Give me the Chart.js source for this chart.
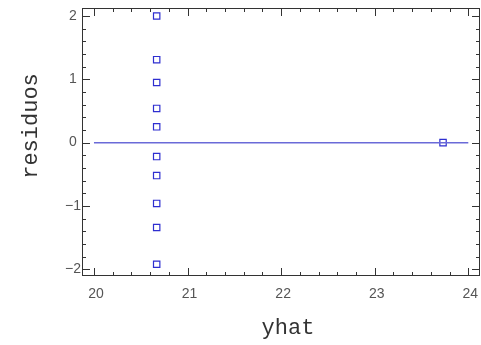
<!DOCTYPE html>
<html>
<head>
<meta charset="utf-8">
<script src="https://cdn.jsdelivr.net/npm/chart.js@4/dist/chart.umd.min.js"></script>
<style>
  html, body { margin: 0; padding: 0; background: #fff; }
</style>
</head>
<body>
<canvas id="myChart" width="481" height="345"></canvas>
<script>
'use strict';

// fitted values and residuals
const yhat = [20.67, 20.67, 20.67, 20.67, 20.67, 20.67, 20.67, 20.67, 20.67, 20.67, 23.73];
const residuos = [2.0, 1.31, 0.95, 0.54, 0.25, -0.22, -0.52, -0.96, -1.34, -1.92, 0.0];

// reference line at zero
const zeroLineX = [20, 24];
const zeroLineY = [0, 0];

// axis ticks
const xTicks = [20, 21, 22, 23, 24];
const xTickLabels = ['20', '21', '22', '23', '24'];
const yTicks = [-2, -1, 0, 1, 2];
const yTickLabels = ['\u22122', '\u22121', '0', '1', '2'];
const minorStep = 0.2;

const xTitle = 'yhat';
const yTitle = 'residuos';

// frame, inward ticks, tick labels and titles
const framePlugin = {
   id: 'frame',
   afterDraw: function (chart) {
      const ctx = chart.ctx;
      const a = chart.chartArea;
      const xs = chart.scales.x;
      const ys = chart.scales.y;
      ctx.save();
      ctx.strokeStyle = '#333';
      ctx.lineWidth = 1;
      ctx.strokeRect(a.left + 0.5, a.top + 0.5, a.right - a.left - 1, a.bottom - a.top - 1);

      ctx.beginPath();
      // minor + major ticks on x (top and bottom)
      for (let v = xTicks[0] - 5 * minorStep; v <= xs.max; v += minorStep) {
         if (v < xs.min) continue;
         const px = Math.round(xs.getPixelForValue(v)) + 0.5;
         const major = Math.abs(v - Math.round(v)) < 1e-6;
         const len = major ? 8 : 4;
         ctx.moveTo(px, a.bottom);
         ctx.lineTo(px, a.bottom - len);
         ctx.moveTo(px, a.top);
         ctx.lineTo(px, a.top + len);
      }
      // minor + major ticks on y (left and right)
      for (let v = yTicks[0]; v <= ys.max; v += minorStep) {
         if (v < ys.min) continue;
         const py = Math.round(ys.getPixelForValue(v)) + 0.5;
         const major = Math.abs(v - Math.round(v)) < 1e-6;
         const len = major ? 8 : 4;
         ctx.moveTo(a.left, py);
         ctx.lineTo(a.left + len, py);
         ctx.moveTo(a.right, py);
         ctx.lineTo(a.right - len, py);
      }
      ctx.stroke();

      // tick labels
      ctx.fillStyle = '#555';
      ctx.font = '14px "Liberation Sans", sans-serif';
      ctx.textAlign = 'center';
      ctx.textBaseline = 'middle';
      for (let i = 0; i < xTicks.length; i++) {
         ctx.fillText(xTickLabels[i], xs.getPixelForValue(xTicks[i]) + 2, a.bottom + 18);
      }
      for (let i = 0; i < yTicks.length; i++) {
         ctx.fillText(yTickLabels[i], a.left - 9, ys.getPixelForValue(yTicks[i]));
      }

      // axis titles
      ctx.fillStyle = '#333';
      ctx.font = '22px "Liberation Mono", monospace';
      ctx.fillText(xTitle, 288, 328);
      ctx.translate(31, 126);
      ctx.rotate(-Math.PI / 2);
      ctx.fillText(yTitle, 0, 0);
      ctx.restore();
   }
};

const points = [];
for (let i = 0; i < yhat.length; i++) {
   points.push({ x: yhat[i], y: residuos[i] });
}
const zeroLine = [];
for (let i = 0; i < zeroLineX.length; i++) {
   zeroLine.push({ x: zeroLineX[i], y: zeroLineY[i] });
}

new Chart(document.getElementById('myChart'), {
   type: 'scatter',
   data: {
      datasets: [{
         type: 'line',
         data: zeroLine,
         borderColor: '#6a6ad8',
         borderWidth: 1.5,
         pointRadius: 0,
         fill: false
      }, {
         data: points,
         pointStyle: 'rect',
         pointRadius: 4.5,
         pointBorderWidth: 1.2,
         borderColor: '#2e2ed0',
         backgroundColor: 'rgba(255,255,255,0)',
         clip: false
      }]
   },
   options: {
      responsive: false,
      animation: false,
      layout: { autoPadding: false, padding: { left: 82, right: 1, top: 8, bottom: 69 } },
      plugins: { legend: { display: false }, tooltip: { enabled: false } },
      scales: {
         x: { type: 'linear', min: 19.872, max: 24.125, display: false },
         y: { type: 'linear', min: -2.106, max: 2.126, display: false }
      }
   },
   plugins: [framePlugin]
});
</script>
</body>
</html>
